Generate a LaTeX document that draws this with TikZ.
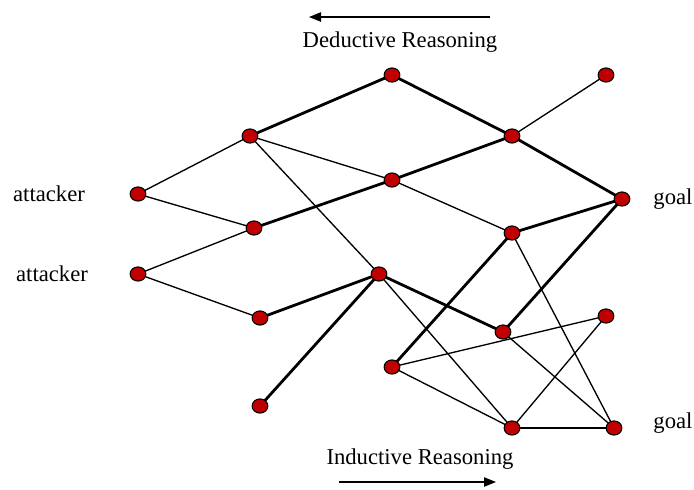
\documentclass[tikz,border=0pt]{standalone}
\usepackage{fontspec}
\setmainfont{Liberation Serif}
\usetikzlibrary{arrows.meta,shapes.geometric,backgrounds}
\definecolor{nodered}{HTML}{C00000}
\begin{document}
\begin{tikzpicture}[x=0.75pt,y=-0.75pt,
  vertex/.style={ellipse,draw=black,line width=0.8pt,fill=nodered,minimum width=11.8pt,minimum height=10.6pt,inner sep=0pt},
  weak/.style={line width=1pt},
  strong/.style={line width=2.1pt},
  lbl/.style={font=\fontsize{17}{20}\selectfont,inner sep=0pt},
  dir/.style={line width=1pt,-{Triangle[length=9pt,width=7pt]}}]
\useasboundingbox (0,0) rectangle (694,490);
% graph vertices
\node[vertex] (a) at (392,75) {};
\node[vertex] (b) at (606,75) {};
\node[vertex] (c) at (250,136) {};
\node[vertex] (d) at (512,136) {};
\node[vertex] (e) at (138,194) {};
\node[vertex] (f) at (392,180) {};
\node[vertex] (g) at (622,199) {};
\node[vertex] (h) at (254,228) {};
\node[vertex] (i) at (512,233) {};
\node[vertex] (j) at (138,274) {};
\node[vertex] (k) at (379,274) {};
\node[vertex] (l) at (260,318) {};
\node[vertex] (m) at (503,332) {};
\node[vertex] (n) at (606,316) {};
\node[vertex] (o) at (392,367) {};
\node[vertex] (p) at (260,406) {};
\node[vertex] (q) at (512,428) {};
\node[vertex] (r) at (614,428) {};
% labels
\node[lbl] (att1) at (49,194) {attacker};
\node[lbl] (att2) at (52,274) {attacker};
\node[lbl] (goal1) at (673,199) {goal};
\node[lbl] (goal2) at (673,423) {goal};
\node[lbl] (ded) at (400,42) {Deductive Reasoning};
\node[lbl] (ind) at (420,459) {Inductive Reasoning};
% direction arrows
\coordinate (d1) at (490,17);
\coordinate (d2) at (309,17);
\coordinate (i1) at (339,482);
\coordinate (i2) at (496,482);
\draw[dir] (d1) -- (d2);
\draw[dir] (i1) -- (i2);
% edges, kept behind the vertices
\begin{scope}[on background layer]
\draw[strong] (c.center) -- (a.center);
\draw[strong] (a.center) -- (d.center);
\draw[weak] (d.center) -- (b.center);
\draw[strong] (d.center) -- (g.center);
\draw[weak] (c.center) -- (e.center);
\draw[weak] (c.center) -- (f.center);
\draw[weak] (c.center) -- (k.center);
\draw[strong] (f.center) -- (d.center);
\draw[weak] (f.center) -- (i.center);
\draw[weak] (e.center) -- (h.center);
\draw[strong] (h.center) -- (f.center);
\draw[weak] (j.center) -- (h.center);
\draw[weak] (j.center) -- (l.center);
\draw[strong] (l.center) -- (k.center);
\draw[strong] (k.center) -- (p.center);
\draw[strong] (k.center) -- (m.center);
\draw[weak] (k.center) -- (q.center);
\draw[strong] (i.center) -- (g.center);
\draw[strong] (i.center) -- (o.center);
\draw[weak] (i.center) -- (r.center);
\draw[strong] (m.center) -- (g.center);
\draw[weak] (o.center) -- (n.center);
\draw[weak] (o.center) -- (q.center);
\draw[weak] (m.center) -- (r.center);
\draw[weak] (q.center) -- (n.center);
\draw[weak] (q.center) -- (r.center);
\end{scope}
\end{tikzpicture}
\end{document}
